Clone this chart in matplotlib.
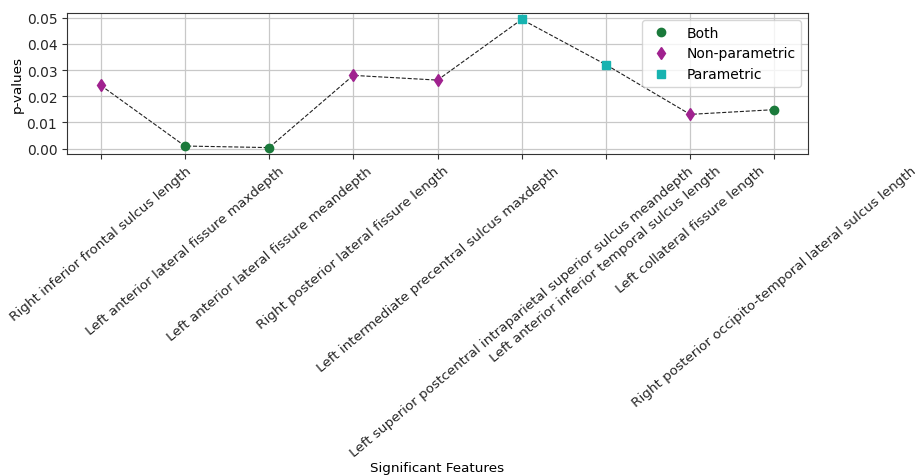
import matplotlib
matplotlib.use("Agg")
import matplotlib.pyplot as plt
from matplotlib.ticker import MultipleLocator

features = [
    "Right inferior frontal sulcus length",
    "Left anterior lateral fissure maxdepth",
    "Left anterior lateral fissure meandepth",
    "Right posterior lateral fissure length",
    "Left intermediate precentral sulcus maxdepth",
    "Left superior postcentral intraparietal superior sulcus meandepth",
    "Left anterior inferior temporal sulcus length",
    "Left collateral fissure length",
    "Right posterior occipito-temporal lateral sulcus length",
]
p_values = [0.0242, 0.0010, 0.0004, 0.0280, 0.0262, 0.0494, 0.0321, 0.0131, 0.0149]
test_type = ["Non-parametric", "Both", "Both", "Non-parametric", "Non-parametric",
             "Parametric", "Parametric", "Non-parametric", "Both"]

groups = ["Both", "Non-parametric", "Parametric"]
colors = {"Both": "#1b7a3b", "Non-parametric": "#a0218f", "Parametric": "#17b3b0"}
markers = {"Both": "o", "Non-parametric": "d", "Parametric": "s"}

plt.rcParams["font.size"] = 9.7

fig = plt.figure(figsize=(9.18, 4.77), dpi=100)
ax = fig.add_axes([67/918, 1-155/477, (808-67)/918, (155-14)/477])

x = list(range(len(features)))
ax.plot(x, p_values, linestyle="--", color="#222222", linewidth=0.8, zorder=2)
for g in groups:
    xs = [i for i, t in enumerate(test_type) if t == g]
    ys = [p_values[i] for i in xs]
    ax.plot(xs, ys, linestyle="none", marker=markers[g], color=colors[g],
            markersize=6, label=g, zorder=3)

ax.set_xticks(x)
ax.set_xticklabels(features, rotation=40)
ax.yaxis.set_major_locator(MultipleLocator(0.01))
ax.tick_params(axis="y", labelsize=10)
ax.set_ylabel("p-values", labelpad=2)
ax.set_xlabel("Significant Features")
ax.xaxis.set_label_coords(0.5, -2.18)
ax.grid(True, color="#c8c8c8", linewidth=0.9)
ax.set_axisbelow(True)
for s in ax.spines.values():
    s.set_color("#333333")
ax.tick_params(colors="#333333", labelcolor="#262626")
ax.legend(loc="upper right", fontsize=10)

fig.savefig("out.png", dpi=100)
